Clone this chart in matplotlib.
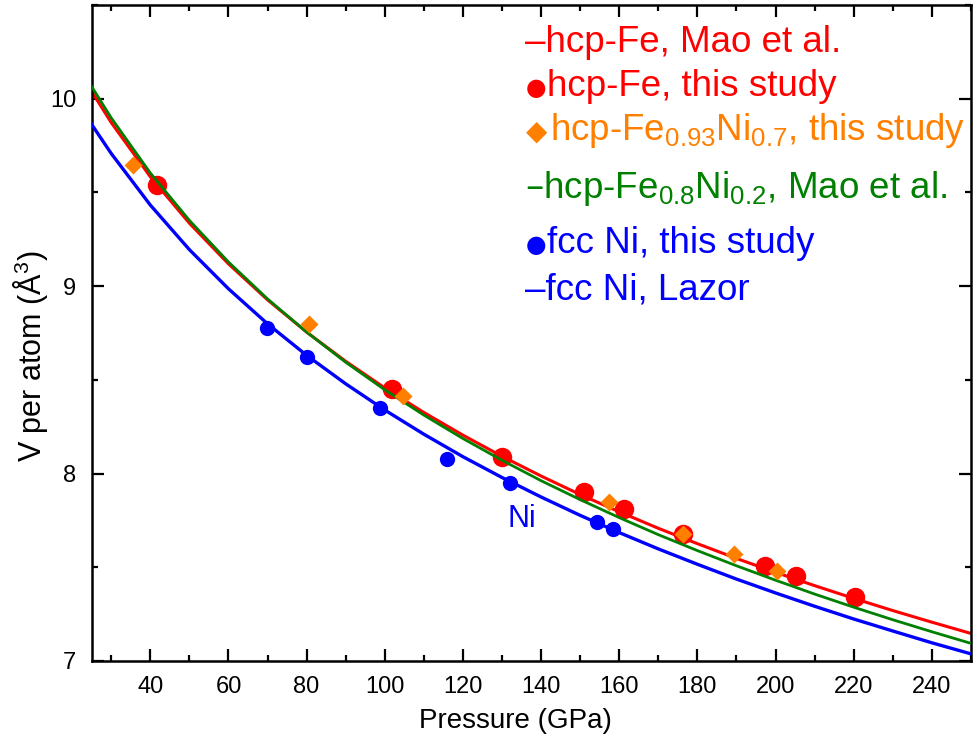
import matplotlib
matplotlib.use('Agg')
import matplotlib.pyplot as plt
from matplotlib.ticker import MultipleLocator

plt.rcParams['font.family'] = ['Liberation Sans', 'DejaVu Sans']
plt.rcParams['mathtext.default'] = 'regular'

# 状态方程曲线 (GPa, Å^3/atom)
p_fit = [25, 30, 40, 50, 60, 70, 80, 90, 100, 110, 120, 130, 140, 150, 160,
         170, 180, 190, 200, 210, 220, 230, 240, 250]
v_fe_mao = [10.039, 9.873, 9.584, 9.336, 9.119, 8.927, 8.755, 8.599, 8.457, 8.326,
            8.205, 8.092, 7.987, 7.888, 7.796, 7.708, 7.626, 7.547, 7.473, 7.402,
            7.334, 7.269, 7.207, 7.147]
v_feni_mao = [10.065, 9.898, 9.604, 9.351, 9.129, 8.932, 8.755, 8.594, 8.447, 8.312,
              8.187, 8.071, 7.962, 7.861, 7.765, 7.674, 7.589, 7.508, 7.431, 7.357,
              7.287, 7.220, 7.156, 7.094]
v_ni_lazor = [9.863, 9.708, 9.433, 9.195, 8.986, 8.799, 8.631, 8.479, 8.339, 8.210,
              8.090, 7.979, 7.875, 7.777, 7.685, 7.598, 7.516, 7.437, 7.363, 7.292,
              7.224, 7.160, 7.097, 7.038]

# 本文实验数据
fe_p = [41.8, 101.9, 130.1, 151.1, 161.1, 176.3, 197.2, 205.1, 220.2]
fe_v = [9.54, 8.45, 8.09, 7.90, 7.81, 7.68, 7.505, 7.452, 7.34]
feni_p = [35.7, 80.6, 104.7, 157.3, 176.3, 189.4, 200.4]
feni_v = [9.645, 8.80, 8.415, 7.846, 7.68, 7.57, 7.48]
ni_p = [69.9, 80.2, 98.8, 116.0, 132.1, 154.2, 158.3]
ni_v = [8.777, 8.622, 8.351, 8.08, 7.952, 7.739, 7.702]

RED, ORANGE, GREEN, BLUE = '#FF0000', '#FF8000', '#008000', '#0000FF'

fig = plt.figure(figsize=(9.74, 7.49), dpi=100)
ax = fig.add_axes([0.0941, 0.1175, 0.9028, 0.8758])

ax.plot(p_fit, v_fe_mao, color=RED, lw=2.2, zorder=2)
ax.plot(fe_p, fe_v, 'o', color=RED, ms=14, mec='none', zorder=3)
ax.plot(p_fit, v_feni_mao, color=GREEN, lw=2.0, zorder=4)
ax.plot(p_fit, v_ni_lazor, color=BLUE, lw=2.4, zorder=5)
ax.plot(ni_p, ni_v, 'o', color=BLUE, ms=11, mec='none', zorder=6)
ax.plot(feni_p, feni_v, 'D', color=ORANGE, ms=9.5, mec='none', zorder=7)

ax.text(135.0, 7.755, 'Ni', color=BLUE, fontsize=22, ha='center', va='center')

ax.set_xlim(25, 250)
ax.set_ylim(7, 10.5)
ax.xaxis.set_major_locator(MultipleLocator(20))
ax.xaxis.set_minor_locator(MultipleLocator(10))
ax.yaxis.set_major_locator(MultipleLocator(1))
ax.yaxis.set_minor_locator(MultipleLocator(0.5))
ax.tick_params(which='both', direction='in', top=True, right=True, width=1.6)
ax.tick_params(which='major', length=8.6)
ax.tick_params(which='minor', length=4.3)
ax.tick_params(axis='y', labelsize=17, pad=11)
ax.tick_params(axis='x', labelsize=17, pad=10.5)
for s in ax.spines.values():
    s.set_linewidth(1.8)

ax.set_xlabel('Pressure (GPa)', fontsize=20)
ax.xaxis.set_label_coords(0.4825, -0.0716)
ax.set_ylabel('V per atom (Å$^3$)', fontsize=22)
ax.yaxis.set_label_coords(-0.047, 0.465)

# 图例：彩色文字
def fx(px):
    return px / 974


def fy(py):
    return 1 - py / 749


fs = 26.5
fig.text(fx(525), fy(52), '–hcp-Fe, Mao et al.', color=RED, fontsize=fs)
fig.text(fx(536), fy(88), '●', color=RED, fontsize=17, ha='center', va='center',
         family=['DejaVu Sans'])
fig.text(fx(547), fy(96), 'hcp-Fe, this study', color=RED, fontsize=fs)
fig.text(fx(537), fy(132), '◆', color=ORANGE, fontsize=20, ha='center', va='center',
         family=['DejaVu Sans'])
fig.text(fx(550), fy(140), 'hcp-Fe$_{0.93}$Ni$_{0.7}$, this study', color=ORANGE, fontsize=fs)
fig.text(fx(525), fy(198), '–hcp-Fe$_{0.8}$Ni$_{0.2}$, Mao et al.', color=GREEN, fontsize=fs)
fig.text(fx(536), fy(245), '●', color=BLUE, fontsize=17, ha='center', va='center',
         family=['DejaVu Sans'])
fig.text(fx(547), fy(253), 'fcc Ni, this study', color=BLUE, fontsize=fs)
fig.text(fx(525), fy(299), '–fcc Ni, Lazor', color=BLUE, fontsize=fs)

fig.savefig('out.png', dpi=100)
